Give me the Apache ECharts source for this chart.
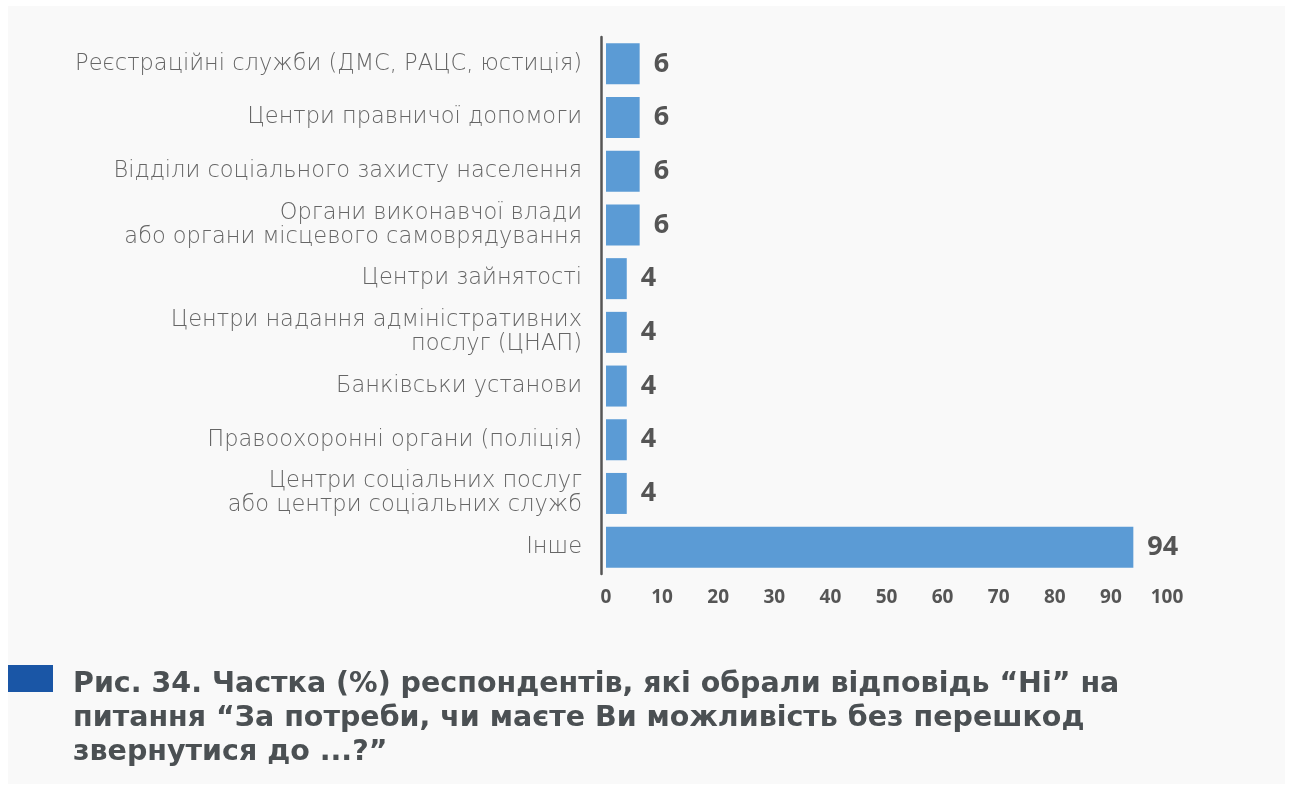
<!DOCTYPE html>
<html>
<head>
<meta charset="utf-8">
<script src="https://cdn.jsdelivr.net/npm/echarts@6/dist/echarts.min.js"></script>
<style>
  html, body { margin: 0; padding: 0; background: #ffffff; }
  #panel { position: absolute; left: 8px; top: 6px; width: 1277px; height: 778px; background: #f9f9f9; }
  #chart { position: absolute; left: 0; top: 0; width: 1290px; height: 789px; }
</style>
</head>
<body>
<div id="panel"></div>
<div id="chart"></div>
<script>
// categories, top to bottom
var categories = [
  'Реєстраційні служби (ДМС, РАЦС, юстиція)',
  'Центри правничої допомоги',
  'Відділи соціального захисту населення',
  'Органи виконавчої влади\nабо органи місцевого самоврядування',
  'Центри зайнятості',
  'Центри надання адміністративних\nпослуг (ЦНАП)',
  'Банківськи установи',
  'Правоохоронні органи (поліція)',
  'Центри соціальних послуг\nабо центри соціальних служб',
  'Інше'
]
// share of "No" answers, %
var values = [6, 6, 6, 6, 3.7, 3.7, 3.7, 3.7, 3.7, 94]
var xTicks = [0, 10, 20, 30, 40, 50, 60, 70, 80, 90, 100]

var titleText = 'Рис. 34. Частка (%) респондентів, які обрали відповідь “Ні” на\n' +
  'питання “За потреби, чи маєте Ви можливість без перешкод\n' +
  'звернутися до ...?”'

var chart = echarts.init(document.getElementById('chart'))
var option = {
  backgroundColor: 'transparent',
  animation: false,
  title: {
    text: titleText,
    left: 73,
    top: 668,
    padding: 0,
    textStyle: {
      fontFamily: 'DejaVu Sans',
      fontWeight: 'bold',
      fontSize: 28.5,
      lineHeight: 34,
      color: '#4b5053'
    }
  },
  graphic: [{
    type: 'rect',
    left: 8,
    top: 665,
    shape: { width: 45, height: 27 },
    style: { fill: '#1a56a6' }
  }],
  grid: {
    left: 606,
    right: 123,
    top: 37,
    bottom: 215
  },
  xAxis: {
    type: 'value',
    min: xTicks[0],
    max: xTicks[xTicks.length - 1],
    interval: 10,
    axisLine: { show: false },
    axisTick: { show: false },
    splitLine: { show: false },
    axisLabel: {
      margin: 14,
      fontFamily: 'Open Sans',
      fontWeight: 'bold',
      fontSize: 19,
      color: '#555555'
    }
  },
  yAxis: {
    type: 'category',
    inverse: true,
    data: categories,
    offset: 5,
    axisLine: { show: true, onZero: false, lineStyle: { color: '#555555', width: 2.5 } },
    axisTick: { show: false },
    axisLabel: {
      margin: 19,
      fontFamily: 'DejaVu Sans',
      fontWeight: 200,
      fontSize: 22.5,
      lineHeight: 24,
      color: '#666666',
      align: 'right'
    }
  },
  series: [{
    type: 'bar',
    data: values,
    barWidth: 41,
    itemStyle: { color: '#5b9bd5' },
    label: {
      show: true,
      position: 'right',
      distance: 14,
      fontFamily: 'Open Sans',
      fontWeight: 'bold',
      fontSize: 27,
      color: '#555555',
      formatter: function (p) { return Math.round(p.value) }
    }
  }]
}
chart.setOption(option)
window.onresize = chart.resize
</script>
</body>
</html>
